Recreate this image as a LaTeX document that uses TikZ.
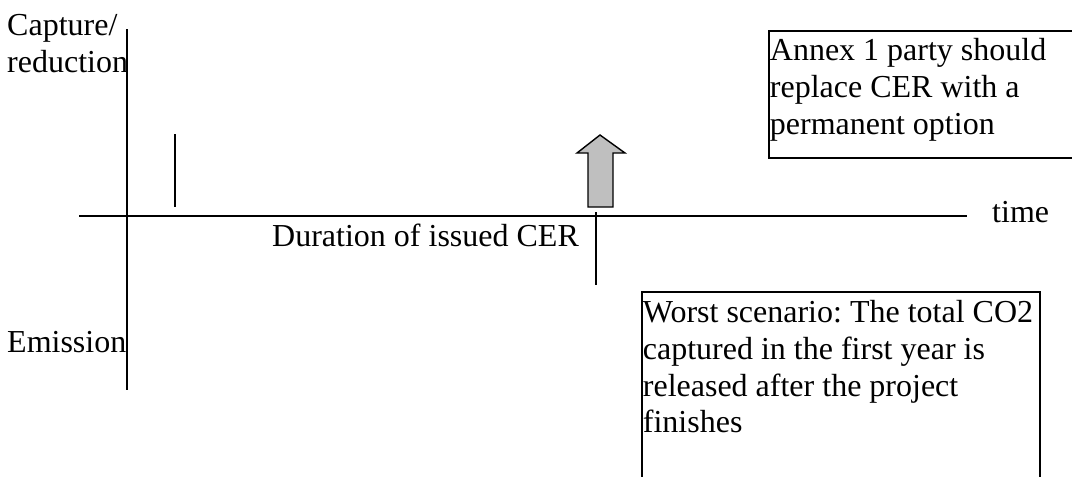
\documentclass[tikz,border=0pt]{standalone}
\usepackage{fontspec}
\setmainfont{Liberation Serif}
\usepackage{tikz}

\tikzset{
  lbl/.style={inner sep=0pt, anchor=base west, align=left, font=\fontsize{32}{36.6}\selectfont},
  notebox/.style={draw, line width=1.8pt, anchor=north west, align=left, inner xsep=1pt, inner ysep=4pt,
    font=\fontsize{32}{36.6}\selectfont\frenchspacing,
    execute at begin node={\spaceskip=0pt\xspaceskip=0pt}},
  axis/.style={line width=1.8pt}
}

\begin{document}
\begin{tikzpicture}[x=1pt,y=-1pt]
\clip (0,0) rectangle (1072,477);

\coordinate (ytop) at (127,29);
\coordinate (ybot) at (127,390);
\coordinate (xleft) at (79,216);
\coordinate (xright) at (967,216);
\draw[axis] (ytop) -- (ybot);
\draw[axis] (xleft) -- (xright);

% base of a two line label is its last line
\node[lbl] (capture) at (7,72) {Capture/\\reduction};
\node[lbl] (emission) at (7,352) {Emission};
\node[lbl] (time) at (992,222) {time};
\node[lbl] (duration) at (272,246) {Duration of issued CER};

% start and end of the CER
\coordinate (s1) at (175,134);
\coordinate (s2) at (175,207);
\draw[axis] (s1) -- (s2);
\coordinate (e1) at (596,212);
\coordinate (e2) at (596,285);
\draw[axis] (e1) -- (e2);

\filldraw[fill=gray!50, line width=1.4pt] (600,135) -- (625,153) -- (613,153) -- (613,207) -- (588,207) -- (588,153) -- (577,153) -- cycle;

\node[notebox, text width=330pt, text height=26pt, text depth=93pt] (annex) at (768,30) {Annex 1 party should\\replace CER with a\\permanent option};
\node[notebox, text width=396pt, text height=27pt, text depth=200pt] (worst) at (641,291) {Worst scenario: The total CO2\\captured in the first year is\\released after the project\\finishes};
\end{tikzpicture}
\end{document}
